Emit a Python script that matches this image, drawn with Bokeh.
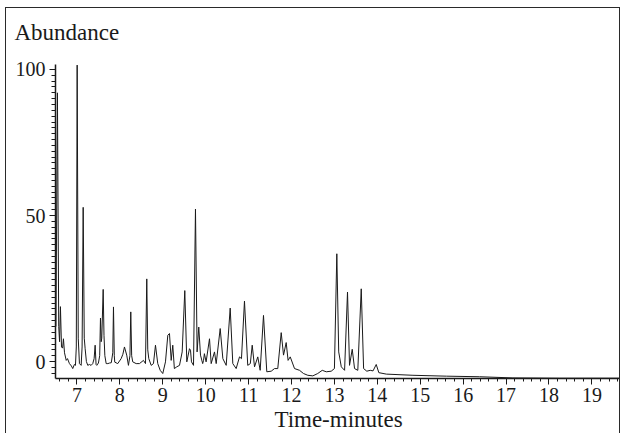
from bokeh.plotting import figure
from bokeh.models import FixedTicker, Title, ColumnDataSource
from bokeh.embed import file_html
from bokeh.resources import INLINE

# ---- data ----
time_min = [
    6.51, 6.545, 6.575, 6.595, 6.615, 6.64, 6.665, 6.685, 6.71, 6.75, 6.78, 6.825, 6.87, 6.902,
    6.94, 6.965, 6.985, 7.005, 7.03, 7.058, 7.098, 7.12, 7.145, 7.17, 7.191, 7.22, 7.252, 7.29,
    7.33, 7.368, 7.40, 7.424, 7.445, 7.462, 7.50, 7.53, 7.548, 7.565, 7.578, 7.611, 7.63, 7.65,
    7.681, 7.72, 7.76, 7.80, 7.835, 7.851, 7.87, 7.881, 7.95, 8.03, 8.07, 8.107, 8.16, 8.20,
    8.235, 8.254, 8.275, 8.30, 8.38, 8.457, 8.55, 8.597, 8.627, 8.65, 8.674, 8.73, 8.783, 8.83,
    8.883, 8.94, 9.00, 9.063, 9.117, 9.156, 9.196, 9.233, 9.27, 9.326, 9.39, 9.452, 9.513, 9.56,
    9.622, 9.646, 9.669, 9.716, 9.762, 9.80, 9.839, 9.879, 9.93, 9.95, 9.97, 10.01, 10.089, 10.128,
    10.205, 10.245, 10.338, 10.40, 10.478, 10.571, 10.632, 10.71, 10.788, 10.834, 10.904, 10.98,
    11.04, 11.084, 11.138, 11.214, 11.27, 11.347, 11.424, 11.527, 11.604, 11.68, 11.76, 11.814,
    11.876, 11.92, 11.97, 12.07, 12.187, 12.28, 12.38, 12.497, 12.61, 12.716, 12.81, 12.925,
    13.00, 13.056, 13.10, 13.16, 13.237, 13.305, 13.352, 13.415, 13.469, 13.545, 13.625, 13.68,
    13.755, 13.834, 13.90, 13.974, 14.035, 14.21, 14.83, 15.61, 16.38, 17.16, 18.25, 19.69,
]
abundance = [
    12.0, 92.0, 12.0, 6.8, 18.8, 5.0, 4.6, 7.8, 3.0, 0.4, 1.0, -0.7, -1.5, -2.4,
    -1.0, -1.3, 5.0, 101.5, 8.0, -0.7, -1.3, 5.0, 52.8, 8.0, 4.4, 0.0, -1.3, -1.0,
    -1.3, -0.7, 1.0, 5.6, -1.0, -1.3, -0.5, 2.0, 14.9, 6.8, 8.0, 24.7, 9.0, 2.0,
    -0.7, -0.7, -0.5, -0.4, 3.0, 18.7, 2.0, -0.2, -0.7, 1.0, 2.5, 5.0, 2.2, -1.3,
    2.0, 17.0, 2.0, -0.1, -0.7, -0.7, 0.4, -0.7, 28.3, 4.0, 1.0, -1.3, -0.7, 5.6,
    -0.7, -3.0, -4.1, -0.1, 9.0, 9.6, 0.4, 5.6, -2.4, -1.8, -1.3, 3.3, 24.3, -0.1,
    4.4, 3.9, -0.1, -1.3, 52.2, 3.3, 11.8, 2.2, -0.7, 0.4, 2.7, -0.1, 7.8, -0.7,
    3.3, -0.7, 11.3, 1.0, -1.3, 18.3, -0.7, -2.4, 1.6, 1.0, 20.7, -1.3,
    -0.7, 5.6, -1.8, 1.6, -3.0, 15.8, -3.5, -3.3, -2.4, -2.4, 9.9, 2.2,
    6.5, 0.4, 1.6, -2.4, -3.0, -4.1, -4.7, -4.9, -4.1, -3.0, -3.5, -3.3,
    -2.4, 36.9, 3.3, -1.8, -3.0, 23.8, -1.3, 4.2, -2.4, -3.0, 24.9, -2.4,
    -3.3, -3.0, -3.2, -1.0, -3.8, -4.3, -4.7, -5.0, -5.2, -5.6, -5.7, -5.7,
]

x_ticks = [7, 8, 9, 10, 11, 12, 13, 14, 15, 16, 17, 18, 19]
y_ticks = [0, 50, 100]
y_label = "Abundance"
x_label = "Time-minutes"

FONT = "Liberation Serif"
INK = "#1a1a1a"

p = figure(
    width=615, height=426,
    x_range=(6.5, 19.69), y_range=(-5.8, 101.7),
    output_backend="svg", toolbar_location=None,
    min_border_left=49, min_border_right=0, min_border_top=56, min_border_bottom=55,
)
p.margin = (7, 0, 0, 5)
p.styles = {
    "border-left": "1.5px solid #2a2a2a",
    "border-top": "1.5px solid #2a2a2a",
    "border-right": "1.5px solid #2a2a2a",
}
p.outline_line_color = None
p.grid.visible = False
p.background_fill_color = "white"
p.border_fill_color = "white"

src = ColumnDataSource(dict(t=time_min, a=abundance))
p.line("t", "a", source=src, line_color=INK, line_width=1.0)

# x axis
xa = p.xaxis[0]
xa.ticker = FixedTicker(ticks=x_ticks,
                        minor_ticks=[round(6.6 + 0.2 * i, 2) for i in range(0, 66)])
xa.axis_line_color = INK
xa.axis_line_width = 1.5
xa.major_tick_line_color = INK
xa.minor_tick_line_color = INK
xa.major_tick_out = 6
xa.major_tick_in = 0
xa.minor_tick_out = 3
xa.minor_tick_in = 0
xa.major_label_standoff = 3
xa.major_label_text_font = FONT
xa.major_label_text_font_size = "20px"
xa.major_label_text_color = INK
xa.axis_label = x_label
xa.axis_label_text_font = FONT
xa.axis_label_text_font_size = "23px"
xa.axis_label_text_font_style = "normal"
xa.axis_label_text_color = INK
xa.axis_label_standoff = 2

# y axis
ya = p.yaxis[0]
ya.ticker = FixedTicker(ticks=y_ticks,
                        minor_ticks=[-4 + 2 * i for i in range(0, 53)])
ya.axis_line_color = INK
ya.axis_line_width = 1.5
ya.major_tick_line_color = INK
ya.minor_tick_line_color = INK
ya.major_tick_out = 6
ya.major_tick_in = 0
ya.minor_tick_out = 4
ya.minor_tick_in = 0
ya.major_label_standoff = 4
ya.major_label_text_font = FONT
ya.major_label_text_font_size = "20px"
ya.major_label_text_color = INK

# spacer panel between the frame and the "Abundance" caption
spacer = Title(text=" ", text_font_size="10px", standoff=4)
p.add_layout(spacer, "above")
title = Title(text=y_label, align="left", offset=-41, standoff=2,
              vertical_align="top",
              text_font=FONT, text_font_size="23px", text_font_style="normal",
              text_color=INK)
p.add_layout(title, "above")

open("out.html", "w").write(file_html(p, INLINE))
